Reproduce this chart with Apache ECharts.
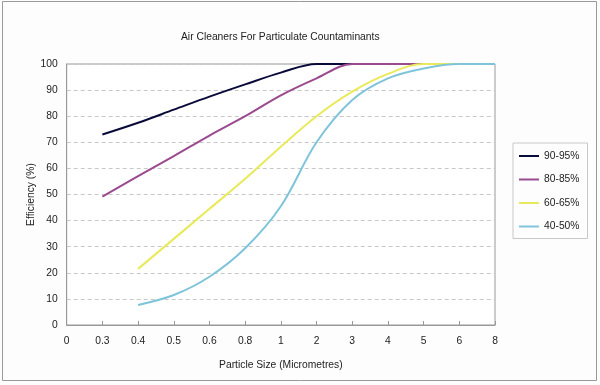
<!DOCTYPE html>
<html>
<head>
<meta charset="utf-8">
<script src="https://cdn.jsdelivr.net/npm/echarts@6/dist/echarts.min.js"></script>
<style>html,body{margin:0;padding:0;background:#fdfdfd;}#c{width:600px;height:385px;}</style>
</head>
<body>
<div id="c"></div>
<script>
var categories = ['0', '0.3', '0.4', '0.5', '0.6', '0.8', '1', '2', '3', '4', '5', '6', '8'];
var yTicks = [0, 10, 20, 30, 40, 50, 60, 70, 80, 90, 100];
var seriesNames = ['90-95%', '80-85%', '60-65%', '40-50%'];
var eff90 = [null, 73, 77.5, 82.5, 87.5, 92.2, 96.7, 100, 100, 100, 100, 100, 100];
var eff80 = [null, 49.2, 57, 64.7, 72.6, 80, 88, 94.5, 100, 100, 100, 100, 100];
var eff60 = [null, null, 21.5, 33, 44.5, 56, 68.3, 80, 89.4, 96.2, 100, 100, 100];
var eff40 = [null, null, 7.7, 11.5, 18.5, 29.4, 45.5, 70, 86.2, 94.5, 98.3, 100, 100];
var colors = ['#0a0a3a', '#9a4a8e', '#e8ea5a', '#7fc4da'];

var font = 'Liberation Sans, Arial, sans-serif';
var fs = 10.3;
var chart = echarts.init(document.getElementById('c'), null, {renderer: 'canvas'});
function mk(i, data) {
  return {
    name: seriesNames[i], type: 'line', data: data, smooth: 0.35,
    symbol: 'none', connectNulls: false,
    lineStyle: {color: colors[i], width: 2}, itemStyle: {color: colors[i]}
  };
}
chart.setOption({
  backgroundColor: '#fdfdfd',
  animation: false,
  title: {
    text: 'Air Cleaners For Particulate Countaminants',
    left: 181, top: 32, padding: 0,
    textStyle: {fontFamily: font, fontSize: fs, fontWeight: 'normal', color: '#222'}
  },
  legend: {
    orient: 'vertical', left: 513, top: 143,
    data: seriesNames,
    icon: 'rect', itemWidth: 20, itemHeight: 2, itemGap: 13.5,
    padding: [8, 8, 7, 6],
    borderColor: '#c8c8c8', borderWidth: 1, backgroundColor: '#fdfdfd',
    textStyle: {fontFamily: font, fontSize: fs, color: '#222'}
  },
  grid: {
    left: 66.7, right: 105, top: 64, bottom: 60,
    show: true, borderColor: '#999', borderWidth: 1, backgroundColor: '#fff'
  },
  xAxis: {
    type: 'category', data: categories, boundaryGap: false,
    name: 'Particle Size (Micrometres)', nameLocation: 'middle', nameGap: 35,
    nameMoveOverlap: false,
    nameTextStyle: {fontFamily: font, fontSize: fs, color: '#222'},
    axisLine: {lineStyle: {color: '#999'}},
    axisTick: {show: true, inside: true, length: 4, lineStyle: {color: '#999'}},
    axisLabel: {fontFamily: font, fontSize: fs, color: '#222', margin: 11, interval: 0},
    splitLine: {show: false}
  },
  yAxis: {
    type: 'value', min: 0, max: 100, interval: 10,
    name: 'Efficiency (%)', nameLocation: 'middle', nameGap: 31,
    nameMoveOverlap: false,
    nameTextStyle: {fontFamily: font, fontSize: fs, color: '#222'},
    axisLine: {show: true, lineStyle: {color: '#999'}},
    axisTick: {show: false},
    axisLabel: {fontFamily: font, fontSize: fs, color: '#222', margin: 9,
      formatter: function (v) { return yTicks.indexOf(v) >= 0 ? String(v) : ''; }},
    splitLine: {show: true, lineStyle: {color: '#c8c8c8', type: [4, 3]}}
  },
  graphic: [{
    type: 'rect', silent: true, z: 100,
    shape: {x: 2.5, y: 1.5, width: 594, height: 379},
    style: {fill: 'none', stroke: '#999', lineWidth: 1}
  }],
  series: [mk(0, eff90), mk(1, eff80), mk(2, eff60), mk(3, eff40)]
});
</script>
</body>
</html>
